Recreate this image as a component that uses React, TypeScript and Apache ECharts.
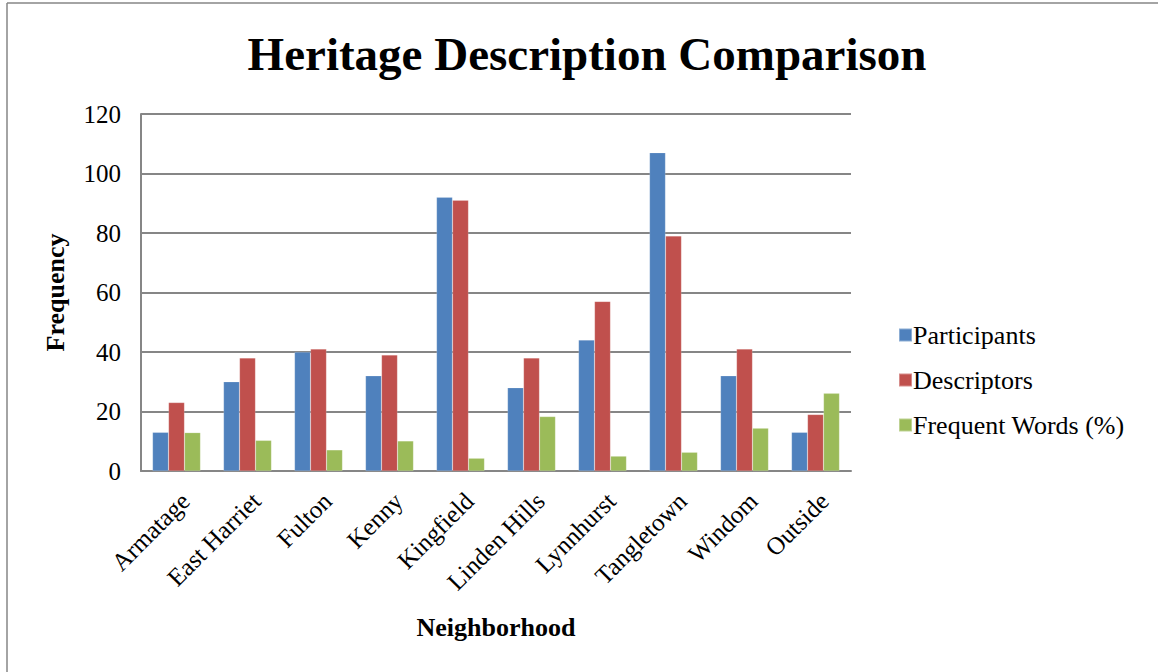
import React, { useEffect, useRef } from "react";
import * as echarts from "echarts";

const categories = ["Armatage", "East Harriet", "Fulton", "Kenny", "Kingfield", "Linden Hills", "Lynnhurst", "Tangletown", "Windom", "Outside"];
const participants = [13, 30, 40, 32, 92, 28, 44, 107, 32, 13];
const descriptors = [23, 38, 41, 39, 91, 38, 57, 79, 41, 19];
const frequentWords = [12.9, 10.3, 7.1, 10.1, 4.3, 18.3, 5.0, 6.3, 14.4, 26.1];
const yTicks = { min: 0, max: 120, interval: 20 };

const FONT = "'Liberation Serif', 'Times New Roman', serif";

export default function App() {
  const ref = useRef<HTMLDivElement>(null);
  useEffect(() => {
    if (!ref.current) return;
    const chart = echarts.init(ref.current, null, { renderer: "svg" });
    const mk = (name: string, data: number[], color: string) => ({
      name,
      type: "bar",
      data,
      barWidth: 16,
      barGap: "0%",
      itemStyle: { color, borderColor: "rgba(255,255,255,0.35)", borderWidth: 0.5 },
    });
    chart.setOption({
      animation: false,
      backgroundColor: "#ffffff",
      textStyle: { fontFamily: FONT },
      title: {
        text: "Heritage Description Comparison",
        left: 582,
        textAlign: "center",
        top: 25,
        textStyle: { fontFamily: FONT, fontSize: 47, fontWeight: "bold", color: "#000" },
      },
      legend: {
        orient: "vertical",
        left: 893,
        top: 317,
        itemWidth: 13,
        itemHeight: 13,
        itemGap: 19,
        icon: "rect",
        textStyle: { fontFamily: FONT, fontSize: 26, color: "#000", padding: [0, 0, 0, -4] },
        data: ["Participants", "Descriptors", "Frequent Words (%)"],
      },
      grid: { left: 141, right: 307, top: 114, bottom: 201, containLabel: false },
      xAxis: {
        type: "category",
        data: categories,
        name: "Neighborhood",
        nameLocation: "middle",
        nameGap: 143,
        nameTextStyle: { fontFamily: FONT, fontSize: 26, fontWeight: "bold", color: "#000" },
        axisLine: { lineStyle: { color: "#868686", width: 2 } },
        axisTick: { show: false },
        axisLabel: { rotate: 45, fontFamily: FONT, fontSize: 25, color: "#000", margin: 17, interval: 0, verticalAlign: "top" },
      },
      yAxis: {
        type: "value",
        min: yTicks.min,
        max: yTicks.max,
        interval: yTicks.interval,
        name: "Frequency",
        nameLocation: "middle",
        nameGap: 73,
        nameTextStyle: { fontFamily: FONT, fontSize: 26, fontWeight: "bold", color: "#000" },
        axisLine: { show: true, lineStyle: { color: "#868686", width: 2 } },
        axisTick: { show: false },
        splitLine: { lineStyle: { color: "#868686", width: 2 } },
        axisLabel: { fontFamily: FONT, fontSize: 25, color: "#000", margin: 20 },
      },
      graphic: [
        { type: "line", shape: { x1: 7, y1: 3, x2: 7, y2: 672 }, style: { stroke: "#868686", lineWidth: 1.5 } },
        { type: "line", shape: { x1: 7, y1: 3, x2: 1158, y2: 3 }, style: { stroke: "#868686", lineWidth: 1.5 } },
      ],
      series: [
        mk("Participants", participants, "#4F81BD"),
        mk("Descriptors", descriptors, "#C0504D"),
        mk("Frequent Words (%)", frequentWords, "#9BBB59"),
      ],
    });
    return () => chart.dispose();
  }, []);
  return <div ref={ref} style={{ position: "fixed", left: 0, top: 0, width: 1158, height: 672 }} />;
}
